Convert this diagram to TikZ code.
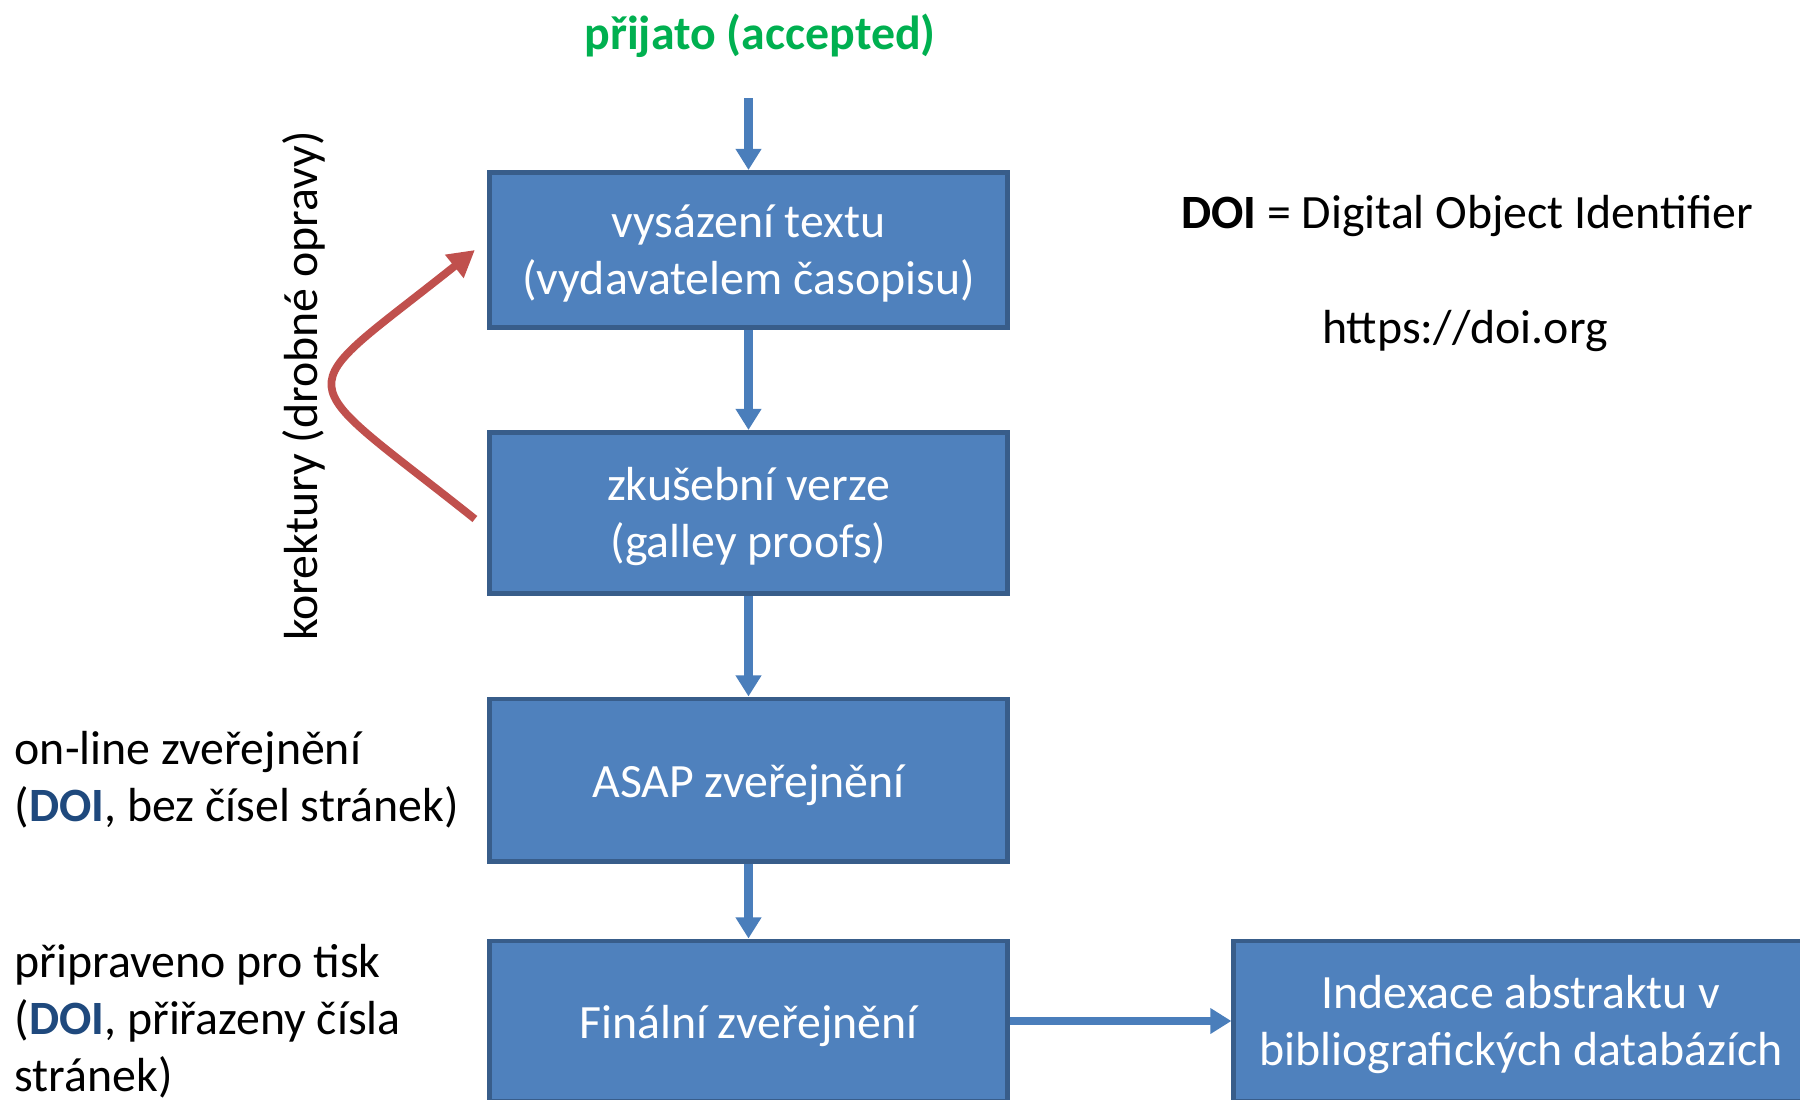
\documentclass[tikz,border=0pt]{standalone}
\usepackage{fontspec}
\setmainfont{Carlito}
\usetikzlibrary{arrows.meta}

\definecolor{boxblue}{HTML}{4F81BD}
\definecolor{boxedge}{HTML}{385D8A}
\definecolor{arrowblue}{HTML}{4A7EBB}
\definecolor{okgreen}{HTML}{00B050}
\definecolor{doiblue}{HTML}{1F497D}
\definecolor{fixred}{HTML}{C0504D}

\begin{document}
\begin{tikzpicture}[x=0.01cm, y=-0.01cm,
  font=\fontsize{13.6}{16.2}\selectfont,
  stepbox/.style={draw=boxedge, line width=1.4pt, fill=boxblue, text=white,
    minimum width=5.18cm, align=center, inner sep=0pt,
    execute at begin node={\rule{0pt}{12.5pt}}},
  twoline/.style={text depth=0.4pt},
  flow/.style={draw=arrowblue, line width=2.4pt, -{Triangle[width=7pt,length=6pt]}},
  fixup/.style={draw=fixred, line width=2.2pt, -{Triangle[width=8pt,length=7.5pt]}},
  note/.style={align=left, inner sep=0pt}]

\useasboundingbox (0,0) rectangle (1800,1100);
\clip (0,0) rectangle (1800,1100);

\node [font=\fontsize{13.6}{16.2}\selectfont\bfseries, text=okgreen] (accepted) at (760,36) {přijato (accepted)};

\node [stepbox, twoline, minimum height=1.55cm] (typeset) at (748.5,250) {vysázení textu\\(vydavatelem časopisu)};
\node [stepbox, twoline, minimum height=1.61cm] (proofs) at (748.5,513) {zkušební verze\\(galley proofs)};
\node [stepbox, minimum height=1.62cm] (asap) at (748.5,780) {ASAP zveřejnění};
\node [stepbox, minimum height=1.60cm] (final) at (748.5,1021) {Finální zveřejnění};
\node [stepbox, twoline, minimum width=5.74cm, minimum height=1.60cm] (indexing) at (1521,1021) {Indexace abstraktu v\\bibliografických databázích};

\draw [flow, shorten <=8pt] (typeset.north |- accepted.south) -- (typeset);
\draw [flow] (typeset) -- (proofs);
\draw [flow] (proofs) -- (asap);
\draw [flow] (asap) -- (final);
\draw [flow] (final) -- (indexing);

% korektury
\draw [fixup] ([xshift=-0.12cm, yshift=-0.06cm]proofs.west) .. controls +(-188,-150) and +(-188,150) .. ([xshift=-0.12cm]typeset.west);
\node [rotate=90] (proofnote) at (304,386) {korektury (drobné opravy)};

\node [note, anchor=west] (onlinenote) at (14,780) {on-line zveřejnění\\(\textbf{\textcolor{doiblue}{DOI}}, bez čísel stránek)};
\node [note, anchor=west] (printnote) at (14,1021) {připraveno pro tisk\\(\textbf{\textcolor{doiblue}{DOI}}, přiřazeny čísla\\stránek)};

\node (doinote) at (1467,216) {\textbf{DOI} = Digital Object Identifier};
\node (doiurl) at (1465,331) {https://doi.org};
\end{tikzpicture}
\end{document}
